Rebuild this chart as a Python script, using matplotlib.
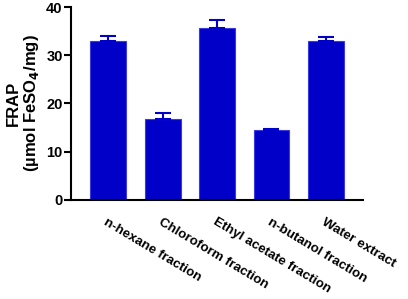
import numpy as np
import matplotlib
matplotlib.use('Agg')
import matplotlib.pyplot as plt

plt.rcParams['font.family'] = ['Liberation Sans', 'DejaVu Sans']
plt.rcParams['font.weight'] = 'bold'

labels = ['n-hexane fraction', 'Chloroform fraction', 'Ethyl acetate fraction',
          'n-butanol fraction', 'Water extract']
values = [33.0, 16.7, 35.8, 14.4, 33.1]
errors = [1.0, 1.4, 1.5, 0.35, 0.8]

blue = '#0000c8'

fig = plt.figure(figsize=(4.08, 2.99), dpi=100)
ax = fig.add_axes([71 / 408, 1 - 199.5 / 299, (363 - 71) / 408, (199.5 - 7.5) / 299])

x = np.arange(len(labels))
ax.bar(x, values, width=0.66, color=blue, edgecolor='#3a3ae0', linewidth=0.8, zorder=2)
ax.errorbar(x, values, yerr=[np.zeros(len(errors)), errors], fmt='none',
            ecolor=blue, elinewidth=1.5, capsize=6, capthick=1.5, zorder=3)

ax.set_xlim(-0.68, 4.68)
ax.set_ylim(0, 40)
ax.set_yticks([0, 10, 20, 30, 40])
ax.set_xticks(x)
ax.set_xticklabels(labels, rotation=-31, ha='left', rotation_mode='anchor',
                   fontsize=9.6, fontweight='bold')
ax.tick_params(axis='x', length=0, pad=12)
ax.tick_params(axis='y', length=5, width=1.5, labelsize=10.5, pad=1)
for t in ax.get_yticklabels():
    t.set_fontweight('bold')

ax.spines['top'].set_visible(False)
ax.spines['right'].set_visible(False)
ax.spines['left'].set_linewidth(1.5)
ax.spines['bottom'].set_linewidth(1.5)

ax.set_ylabel('FRAP\n(µmol FeSO$_\\mathbf{4}$/mg)', fontsize=12, fontweight='bold',
              linespacing=1.05, labelpad=4)

fig.savefig('out.png', dpi=100)
